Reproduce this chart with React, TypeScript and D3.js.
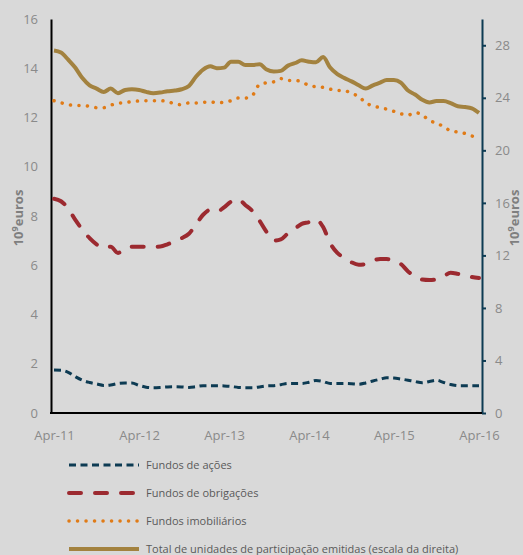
import React, { useEffect, useRef } from "react";
import * as d3 from "d3";

// monthly, Apr-11 .. Apr-16
const acoes = [
  1.75, 1.74, 1.65, 1.48, 1.33, 1.24, 1.18, 1.12, 1.14, 1.2, 1.22, 1.22, 1.12,
  1.05, 1.03, 1.04, 1.06, 1.07, 1.06, 1.04, 1.07, 1.11, 1.11, 1.11, 1.1, 1.08,
  1.04, 1.03, 1.03, 1.06, 1.1, 1.11, 1.15, 1.2, 1.2, 1.2, 1.25, 1.32, 1.28, 1.2,
  1.2, 1.2, 1.19, 1.17, 1.22, 1.3, 1.37, 1.43, 1.42, 1.38, 1.33, 1.28, 1.23,
  1.28, 1.33, 1.24, 1.16, 1.11, 1.11, 1.11, 1.11,
];
const obrigacoes = [
  8.7, 8.6, 8.3, 7.85, 7.45, 7.1, 6.85, 6.7, 6.75, 6.5, 6.7, 6.75, 6.75, 6.75,
  6.75, 6.76, 6.85, 6.97, 7.1, 7.28, 7.65, 8.05, 8.25, 8.18, 8.35, 8.58, 8.68,
  8.45, 8.2, 7.8, 7.35, 7.0, 7.05, 7.3, 7.5, 7.68, 7.75, 7.86, 7.55, 6.9, 6.5,
  6.3, 6.12, 6.02, 6.05, 6.2, 6.25, 6.25, 6.2, 6.05, 5.75, 5.55, 5.42, 5.4,
  5.43, 5.55, 5.7, 5.65, 5.58, 5.52, 5.48,
];
const imobiliarios = [
  12.68, 12.6, 12.52, 12.49, 12.49, 12.45, 12.4, 12.4, 12.5, 12.58, 12.6, 12.65,
  12.67, 12.68, 12.68, 12.68, 12.65, 12.55, 12.52, 12.59, 12.59, 12.62, 12.63,
  12.6, 12.62, 12.68, 12.79, 12.79, 12.9, 13.35, 13.41, 13.45, 13.58, 13.5,
  13.5, 13.45, 13.3, 13.25, 13.22, 13.15, 13.1, 13.09, 12.98, 12.85, 12.6,
  12.47, 12.4, 12.34, 12.25, 12.15, 12.1, 12.2, 12.1, 11.88, 11.77, 11.63,
  11.46, 11.41, 11.35, 11.25, 11.2,
];
// right scale
const totalUP = [
  27.6, 27.45, 26.9, 26.3, 25.5, 24.95, 24.7, 24.45, 24.7, 24.35, 24.6, 24.65,
  24.6, 24.45, 24.35, 24.4, 24.5, 24.55, 24.65, 24.9, 25.6, 26.15, 26.4, 26.25,
  26.3, 26.75, 26.75, 26.5, 26.5, 26.55, 26.15, 26.0, 26.05, 26.45, 26.65,
  26.85, 26.75, 26.7, 27.1, 26.3, 25.8, 25.5, 25.25, 24.95, 24.7, 24.95, 25.15,
  25.35, 25.35, 25.15, 24.55, 24.25, 23.85, 23.65, 23.75, 23.75, 23.6, 23.35,
  23.3, 23.2, 22.85,
];

const xTickLabels = ["Apr-11", "Apr-12", "Apr-13", "Apr-14", "Apr-15", "Apr-16"];
const leftTicks = [0, 2, 4, 6, 8, 10, 12, 14, 16];
const rightTicks = [0, 4, 8, 12, 16, 20, 24, 28];

const legendLabels = [
  "Fundos de ações",
  "Fundos de obrigações",
  "Fundos imobiliários",
  "Total de unidades de participação emitidas (escala da direita)",
];

const FONT = "'Open Sans', 'Noto Sans', sans-serif";

export default function App() {
  const ref = useRef<SVGSVGElement>(null);

  useEffect(() => {
    const svg = d3.select(ref.current);
    svg.selectAll("*").remove();

    const W = 523;
    const H = 555;
    const left = 51;
    const right = 482;
    const top = 19;
    const bottom = 413;

    svg.append("rect").attr("width", W).attr("height", H).attr("fill", "#d9d9d9");

    const dates = d3.timeMonths(new Date(2011, 3, 1), new Date(2016, 4, 1));

    const x = d3
      .scaleTime()
      .domain([dates[0], dates[dates.length - 1]])
      .range([54, 479]);
    const yL = d3.scaleLinear().domain([0, 16]).range([bottom, top]);
    const yR = d3.scaleLinear().domain([0, 30]).range([bottom, top]);

    // left axis
    const gL = svg
      .append("g")
      .attr("transform", `translate(${left},0)`)
      .call(d3.axisLeft(yL).tickValues(leftTicks).tickSize(0).tickSizeOuter(0).tickPadding(13));
    gL.select(".domain").attr("stroke", "#000").attr("stroke-width", 2);
    gL.selectAll("text").attr("fill", "#8a8a8a").style("font", `13px ${FONT}`);

    // right axis
    const gR = svg
      .append("g")
      .attr("transform", `translate(${right},0)`)
      .call(d3.axisRight(yR).tickValues(rightTicks).tickSize(4).tickSizeOuter(0).tickPadding(9));
    gR.select(".domain").attr("stroke", "#0d3b53").attr("stroke-width", 2);
    gR.selectAll("line").attr("stroke", "#0d3b53").attr("stroke-width", 2);
    gR.selectAll("text").attr("fill", "#8a8a8a").style("font", `13px ${FONT}`);

    // bottom axis
    svg
      .append("line")
      .attr("x1", left - 1)
      .attr("x2", right)
      .attr("y1", bottom)
      .attr("y2", bottom)
      .attr("stroke", "#000")
      .attr("stroke-width", 2);
    const tickDates = dates.filter((_, i) => i % 12 === 0);
    const gB = svg
      .append("g")
      .attr("transform", `translate(0,${bottom})`)
      .call(
        d3
          .axisBottom(x)
          .tickValues(tickDates)
          .tickFormat((_, i) => xTickLabels[i])
          .tickSize(0)
          .tickPadding(18)
      );
    gB.select(".domain").remove();
    gB.selectAll("text").attr("fill", "#8a8a8a").style("font", `13px ${FONT}`);

    // axis titles
    const title = (tx: number) => {
      const t = svg
        .append("text")
        .attr("transform", `translate(${tx},218) rotate(-90)`)
        .attr("text-anchor", "middle")
        .attr("fill", "#7f7f7f")
        .style("font", `bold 13px ${FONT}`);
      t.append("tspan").text("10");
      t.append("tspan").attr("dy", -5).style("font-size", "9px").text("9");
      t.append("tspan").attr("dy", 5).text("euros");
    };
    title(23);
    title(519);

    const series = [
      { data: acoes, y: yL, color: "#0d3b53", width: 3, dash: "7,4.5", cap: "butt" },
      { data: obrigacoes, y: yL, color: "#9c2a30", width: 4, dash: "12,14", cap: "round" },
      { data: imobiliarios, y: yL, color: "#e07b17", width: 3.5, dash: "0.1,8.4", cap: "round" },
      { data: totalUP, y: yR, color: "#a3823f", width: 4, dash: null, cap: "butt" },
    ];

    series.forEach((s) => {
      const line = d3
        .line<number>()
        .x((_, i) => x(dates[i]))
        .y((d) => s.y(d))
        .curve(d3.curveMonotoneX);
      svg
        .append("path")
        .attr("d", line(s.data))
        .attr("fill", "none")
        .attr("stroke", s.color)
        .attr("stroke-width", s.width)
        .attr("stroke-dasharray", s.dash)
        .attr("stroke-linecap", s.cap)
        .attr("stroke-linejoin", "round");
    });

    // legend
    const lg = svg.append("g");
    series.forEach((s, i) => {
      const ly = 465 + i * 28;
      lg.append("line")
        .attr("x1", 69)
        .attr("x2", 139)
        .attr("y1", ly)
        .attr("y2", ly)
        .attr("stroke", s.color)
        .attr("stroke-width", s.width)
        .attr("stroke-dasharray", s.dash)
        .attr("stroke-linecap", s.cap);
      lg.append("text")
        .attr("x", 146)
        .attr("y", ly)
        .attr("dy", "0.35em")
        .attr("fill", "#595959")
        .style("font", `11px ${FONT}`)
        .text(legendLabels[i]);
    });
  }, []);

  return (
    <svg
      ref={ref}
      width={523}
      height={555}
      style={{ position: "absolute", left: 0, top: 0, display: "block" }}
    />
  );
}
